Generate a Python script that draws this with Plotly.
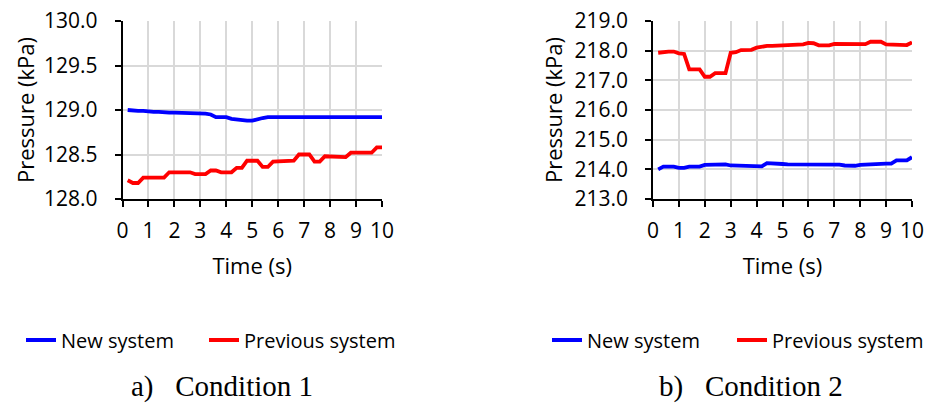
import plotly.graph_objects as go

# Sampling times (s)
time_s = [0.2, 0.4, 0.6, 0.8, 1.0, 1.2, 1.4, 1.6, 1.8, 2.0,
          2.2, 2.4, 2.6, 2.8, 3.0, 3.2, 3.4, 3.6, 3.8, 4.0,
          4.2, 4.4, 4.6, 4.8, 5.0, 5.2, 5.4, 5.6, 5.8, 6.0,
          6.2, 6.4, 6.6, 6.8, 7.0, 7.2, 7.4, 7.6, 7.8, 8.0,
          8.2, 8.4, 8.6, 8.8, 9.0, 9.2, 9.4, 9.6, 9.8, 10.0]

# Condition 1 pressures (kPa)
c1_new = [129.00, 128.99, 128.99, 128.99, 128.98, 128.98, 128.98, 128.97, 128.97, 128.97,
          128.97, 128.96, 128.96, 128.96, 128.96, 128.96, 128.95, 128.92, 128.92, 128.92,
          128.90, 128.89, 128.88, 128.88, 128.88, 128.90, 128.91, 128.92, 128.92, 128.92,
          128.92, 128.92, 128.92, 128.92, 128.92, 128.92, 128.92, 128.92, 128.92, 128.93,
          128.93, 128.93, 128.92, 128.92, 128.92, 128.92, 128.92, 128.92, 128.92, 128.92]
c1_prev = [128.21, 128.18, 128.18, 128.24, 128.24, 128.24, 128.24, 128.24, 128.30, 128.30,
           128.30, 128.30, 128.30, 128.28, 128.28, 128.28, 128.32, 128.32, 128.30, 128.30,
           128.30, 128.35, 128.35, 128.43, 128.43, 128.43, 128.36, 128.36, 128.42, 128.42,
           128.42, 128.42, 128.43, 128.50, 128.50, 128.50, 128.42, 128.42, 128.48, 128.48,
           128.48, 128.47, 128.47, 128.52, 128.52, 128.52, 128.52, 128.52, 128.58, 128.58]

# Condition 2 pressures (kPa)
c2_new = [214.00, 214.09, 214.09, 214.09, 214.05, 214.05, 214.09, 214.09, 214.09, 214.15,
          214.16, 214.17, 214.17, 214.17, 214.13, 214.12, 214.11, 214.10, 214.10, 214.10,
          214.10, 214.21, 214.21, 214.20, 214.18, 214.17, 214.17, 214.16, 214.16, 214.16,
          214.16, 214.16, 214.16, 214.16, 214.16, 214.16, 214.13, 214.12, 214.12, 214.15,
          214.16, 214.19, 214.19, 214.19, 214.19, 214.19, 214.30, 214.30, 214.30, 214.41]
c2_prev = [217.93, 217.96, 217.97, 217.97, 217.91, 217.89, 217.37, 217.37, 217.37, 217.12,
           217.12, 217.24, 217.24, 217.24, 217.93, 217.95, 218.02, 218.03, 218.03, 218.10,
           218.14, 218.16, 218.16, 218.17, 218.18, 218.18, 218.19, 218.20, 218.21, 218.26,
           218.25, 218.18, 218.17, 218.18, 218.23, 218.23, 218.22, 218.22, 218.22, 218.22,
           218.22, 218.30, 218.30, 218.30, 218.21, 218.20, 218.19, 218.19, 218.19, 218.28]

x_ticks = [0, 1, 2, 3, 4, 5, 6, 7, 8, 9, 10]
y1_ticks = [128.0, 128.5, 129.0, 129.5, 130.0]
y2_ticks = [213.0, 214.0, 215.0, 216.0, 217.0, 218.0, 219.0]

W, H = 936, 413
BLUE, RED = "#0000FF", "#FF0000"
SANS = "Open Sans"
LW = 3.8

# one legend per entry so each key sits at its own spot under its panel
series = [
    (c1_new, "New system", BLUE, "x", "y", "legend"),
    (c1_prev, "Previous system", RED, "x", "y", "legend2"),
    (c2_new, "New system", BLUE, "x2", "y2", "legend3"),
    (c2_prev, "Previous system", RED, "x2", "y2", "legend4"),
]

fig = go.Figure()
for vals, name, color, xa, ya, lg in series:
    fig.add_trace(go.Scatter(x=time_s, y=vals, name=name, mode="lines",
                             line=dict(color=color, width=LW),
                             xaxis=xa, yaxis=ya, legend=lg, showlegend=True))

ydom = [1 - 199 / H, 1 - 21 / H]

def xaxis_style(domain, anchor):
    return dict(domain=domain, anchor=anchor, range=[0, 10], tickvals=x_ticks,
                showgrid=True, gridcolor="#D9D9D9", gridwidth=1.5,
                showline=True, linecolor="black", linewidth=1.5,
                ticks="outside", ticklen=6, tickwidth=1.5, tickcolor="black",
                ticklabelstandoff=6,
                tickfont=dict(family=SANS, size=21, color="black"),
                title=dict(text="Time (s)", font=dict(family=SANS, size=22, color="black"),
                           standoff=16),
                zeroline=False, fixedrange=True)

def yaxis_style(anchor, rng, ticks, standoff):
    return dict(domain=ydom, anchor=anchor, range=rng, tickvals=ticks, tickformat=".1f",
                showgrid=True, gridcolor="#D9D9D9", gridwidth=1.5,
                showline=True, linecolor="black", linewidth=1.5,
                ticks="outside", ticklen=6, tickwidth=1.5, tickcolor="black",
                ticklabelstandoff=13,
                tickfont=dict(family=SANS, size=21, color="black"),
                title=dict(text="Pressure (kPa)", font=dict(family=SANS, size=22, color="black"),
                           standoff=standoff),
                zeroline=False, fixedrange=True)

def legend_at(xpx):
    return dict(orientation="h", yanchor="middle", xanchor="left",
                x=xpx / W, y=1 - 340 / H,
                font=dict(family=SANS, size=20, color="black"),
                bgcolor="rgba(0,0,0,0)", itemclick=False, itemdoubleclick=False)

caption_font = dict(family="Liberation Serif", size=29, color="black")

fig.update_layout(
    width=W, height=H,
    showlegend=True,
    margin=dict(l=0, r=0, t=0, b=0, autoexpand=False),
    paper_bgcolor="white", plot_bgcolor="white",
    xaxis=xaxis_style([122.5 / W, 382 / W], "y"),
    yaxis=yaxis_style("x", [128, 130], y1_ticks, 3),
    xaxis2=xaxis_style([653 / W, 912 / W], "y2"),
    yaxis2=yaxis_style("x2", [213, 219], y2_ticks, 6),
    legend=legend_at(21),
    legend2=legend_at(204),
    legend3=legend_at(547),
    legend4=legend_at(732),
    annotations=[
        dict(text="a)\u00a0\u00a0\u00a0Condition 1", x=129 / W, y=1 - 386 / H,
             xref="paper", yref="paper", showarrow=False, xanchor="left", yanchor="middle",
             font=caption_font),
        dict(text="b)\u00a0\u00a0\u00a0Condition 2", x=657 / W, y=1 - 386 / H,
             xref="paper", yref="paper", showarrow=False, xanchor="left", yanchor="middle",
             font=caption_font),
    ],
)

fig.write_html("out.html")
